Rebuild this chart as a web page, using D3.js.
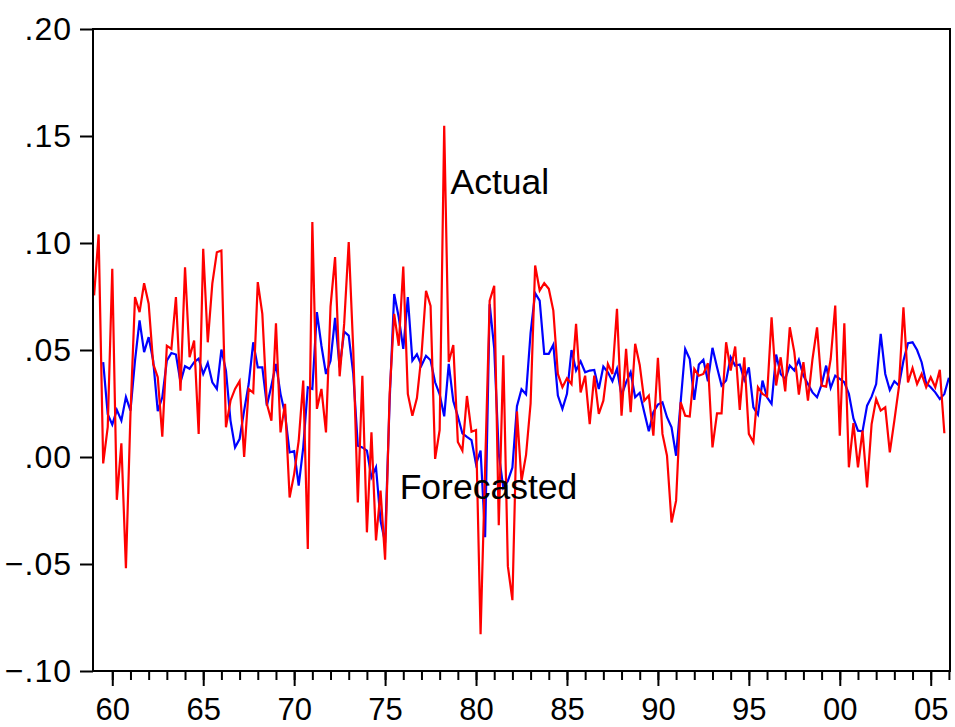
<!DOCTYPE html>
<html>
<head>
<meta charset="utf-8">
<script src="https://cdn.jsdelivr.net/npm/d3@7"></script>
<style>
  body { margin: 0; background: #fff; }
  text { font-family: "Liberation Sans", Arial, sans-serif; }
</style>
</head>
<body>
<div id="my_dataviz"></div>
<script>
// quarterly series, first observation 1959Q1
const startYear = 1959;

// Actual (red), 1959Q1 .. 2005Q4
const actual = [
  0.0755, 0.104, -0.003, 0.014, 0.088, -0.020, 0.0064, -0.052, 0.020, 0.0747,
  0.0677, 0.0812, 0.0716, 0.0435, 0.0373, 0.0095, 0.052, 0.0505, 0.0747, 0.031,
  0.0887, 0.0466, 0.0544, 0.0108, 0.0973, 0.0536, 0.081, 0.0957, 0.0965, 0.0139,
  0.0263, 0.0318, 0.0354, 0.0, 0.0318, 0.030, 0.0817, 0.0669, 0.0248, 0.017,
  0.0625, 0.0115, 0.0248, -0.0189, -0.008, 0.0076, 0.0357, -0.043, 0.1098, 0.0225,
  0.0318, 0.0115, 0.0703, 0.0934, 0.0377, 0.0622, 0.1004, 0.05, -0.0212, 0.038,
  -0.0352, 0.0115, -0.039, -0.0157, -0.048, 0.0295, 0.0669, 0.052, 0.089, 0.0295,
  0.0193, 0.0275, 0.0475, 0.0777, 0.0706, -0.0009, 0.0126, 0.1548, 0.0444, 0.0523,
  0.007, 0.003, 0.0285, 0.0118, 0.0126, -0.0828, -0.005, 0.073, 0.080, -0.0319,
  0.0475, -0.051, -0.0669, 0.0213, -0.0112, 0.001, 0.025, 0.0895, 0.0778, 0.0812,
  0.0786, 0.0684, 0.0388, 0.0326, 0.0368, 0.0341, 0.0622, 0.0302, 0.038, 0.0154,
  0.038, 0.0201, 0.0263, 0.0435, 0.0388, 0.0692, 0.0193, 0.0505, 0.0209, 0.0529,
  0.043, 0.0263, 0.0287, 0.010, 0.0463, 0.0108, 0.0006, -0.0306, -0.0204, 0.0256,
  0.0193, 0.0189, 0.0412, 0.038, 0.0388, 0.0438, 0.0045, 0.0204, 0.0204, 0.0536,
  0.0404, 0.0516, 0.022, 0.0466, 0.0108, 0.0069, 0.0326, 0.0295, 0.0282, 0.0653,
  0.0334, 0.0466, 0.0307, 0.0606, 0.049, 0.0292, 0.0443, 0.0263, 0.0458, 0.0606,
  0.0334, 0.0329, 0.0458, 0.0708, 0.010, 0.0625, -0.0048, 0.0158, -0.0048, 0.0123,
  -0.0142, 0.0154, 0.0271, 0.0217, 0.0232, 0.0022, 0.017, 0.0326, 0.070, 0.0349,
  0.0416, 0.0341, 0.0388, 0.0326, 0.0373, 0.0326, 0.0407, 0.0111
];

// Forecasted (blue), starts 1959Q3, ends 2006Q1
const forecast = [
  null, null,
  0.0443, 0.020, 0.0151, 0.022, 0.017, 0.028, 0.0217, 0.045,
  0.0638, 0.049, 0.056, 0.045, 0.0214, 0.0279, 0.045, 0.0486, 0.0479, 0.035,
  0.0424, 0.0412, 0.0443, 0.046, 0.0388, 0.044, 0.0349, 0.0318, 0.0502, 0.0404,
  0.017, 0.0045, 0.0084, 0.0217, 0.0341, 0.0536, 0.0419, 0.0419, 0.024, 0.0334,
  0.0435, 0.0295, 0.020, 0.0022, 0.0027, -0.0134, 0.0045, 0.0326, 0.0318, 0.0677,
  0.052, 0.0388, 0.045, 0.065, 0.0419, 0.0586, 0.0567, 0.0388, 0.0053, 0.0045,
  0.003, -0.0095, -0.0048, -0.0298, -0.040, 0.0263, 0.0762, 0.0653, 0.0505, 0.0747,
  0.045, 0.048, 0.0428, 0.0473, 0.0452, 0.0349, 0.0293, 0.019, 0.0435, 0.0261,
  0.019, 0.011, 0.0094, 0.0079, -0.0033, 0.003, -0.0375, 0.0714, 0.0507, 0.0015,
  -0.0144, -0.0112, -0.0049, 0.0237, 0.0317, 0.0293, 0.058, 0.0766, 0.0731, 0.0482,
  0.0482, 0.0525, 0.0287, 0.0225, 0.0295, 0.050, 0.0404, 0.0447, 0.0396, 0.0404,
  0.0407, 0.0318, 0.0423, 0.0396, 0.0354, 0.0412, 0.0287, 0.0349, 0.0396, 0.0279,
  0.030, 0.0209, 0.012, 0.0209, 0.0245, 0.0256, 0.0186, 0.0139, 0.0006, 0.0256,
  0.0505, 0.0458, 0.0267, 0.0432, 0.0454, 0.0354, 0.051, 0.0419, 0.0334, 0.0357,
  0.0466, 0.0427, 0.0432, 0.036, 0.0419, 0.0232, 0.0198, 0.0357, 0.0279, 0.0248,
  0.0479, 0.0388, 0.0365, 0.0427, 0.0404, 0.0454, 0.038, 0.0341, 0.0302, 0.0279,
  0.0338, 0.0427, 0.0323, 0.038, 0.0365, 0.0349, 0.0295, 0.018, 0.0123, 0.012,
  0.024, 0.0282, 0.0341, 0.0575, 0.0388, 0.0313, 0.0354, 0.0334, 0.045, 0.0532,
  0.0536, 0.05, 0.0443, 0.0345, 0.0326, 0.0302, 0.0271, 0.0295, 0.037
];

const yTicks = [-0.10, -0.05, 0.00, 0.05, 0.10, 0.15, 0.20];
const majorYears = [1960, 1965, 1970, 1975, 1980, 1985, 1990, 1995, 2000, 2005];
const minorYears = d3.range(1960, 2007);

// in-plot series labels (year, value of the text baseline)
const labels = [
  { text: "Actual", year: 1978.6, value: 0.123 },
  { text: "Forecasted", year: 1975.8, value: -0.0195 }
];

// Set the dimensions of the SVG
const W = 955, H = 727;
const margin = { top: 29, right: 5, bottom: 56, left: 93 };
const width = W - margin.left - margin.right;
const height = H - margin.top - margin.bottom;

var svg = d3.select("#my_dataviz")
  .append("svg")
  .attr("width", W)
  .attr("height", H)
  .append("g")
  .attr("transform", "translate(" + margin.left + "," + margin.top + ")");

// quarter index -> time, last forecast obs at the right edge
const nObs = forecast.length;
const t = i => startYear + i / 4;

var xScale = d3.scaleLinear()
  .domain([t(0) - 0.06, t(nObs - 1) + 0.06])
  .range([0, width]);

var yScale = d3.scaleLinear()
  .domain([-0.10, 0.20])
  .range([height, 0]);

const fmtY = d => d3.format(".2f")(d).replace("0.", ".");

// Y axis
svg.append("g")
  .call(d3.axisLeft(yScale).tickValues(yTicks).tickFormat(fmtY).tickSize(13).tickPadding(8))
  .call(g => g.select(".domain").remove())
  .call(g => g.selectAll("line").attr("stroke", "#000").attr("stroke-width", 2))
  .call(g => g.selectAll("text")
    .style("font-size", "32px")
    .style("letter-spacing", "1px")
    .attr("fill", "#000"));

// X axis: minor ticks each year, major ticks with labels every five
svg.append("g")
  .attr("transform", "translate(0," + height + ")")
  .call(d3.axisBottom(xScale).tickValues(minorYears).tickFormat("").tickSize(9))
  .call(g => g.select(".domain").remove())
  .call(g => g.selectAll("line").attr("stroke", "#000").attr("stroke-width", 2));

svg.append("g")
  .attr("transform", "translate(0," + height + ")")
  .call(d3.axisBottom(xScale).tickValues(majorYears)
    .tickFormat(d => String(d % 100).padStart(2, "0"))
    .tickSize(15).tickPadding(12))
  .call(g => g.select(".domain").remove())
  .call(g => g.selectAll("line").attr("stroke", "#000").attr("stroke-width", 2))
  .call(g => g.selectAll("text").style("font-size", "31px").attr("fill", "#000"));

// Lines
const line = d3.line()
  .defined(d => d != null)
  .x((d, i) => xScale(t(i)))
  .y(d => yScale(d));

svg.append("path")
  .datum(forecast)
  .attr("fill", "none")
  .attr("stroke", "#0000FF")
  .attr("stroke-width", 2.2)
  .attr("d", line);

svg.append("path")
  .datum(actual)
  .attr("fill", "none")
  .attr("stroke", "#FF0000")
  .attr("stroke-width", 2.2)
  .attr("d", line);

// Frame
svg.append("rect")
  .attr("x", 0)
  .attr("y", 0)
  .attr("width", width)
  .attr("height", height)
  .attr("fill", "none")
  .attr("stroke", "#000")
  .attr("stroke-width", 2);

// Series labels
labels.forEach(l => {
  svg.append("text")
    .attr("x", xScale(l.year))
    .attr("y", yScale(l.value))
    .style("font-size", "35.5px")
    .attr("fill", "#000")
    .text(l.text);
});
</script>
</body>
</html>
